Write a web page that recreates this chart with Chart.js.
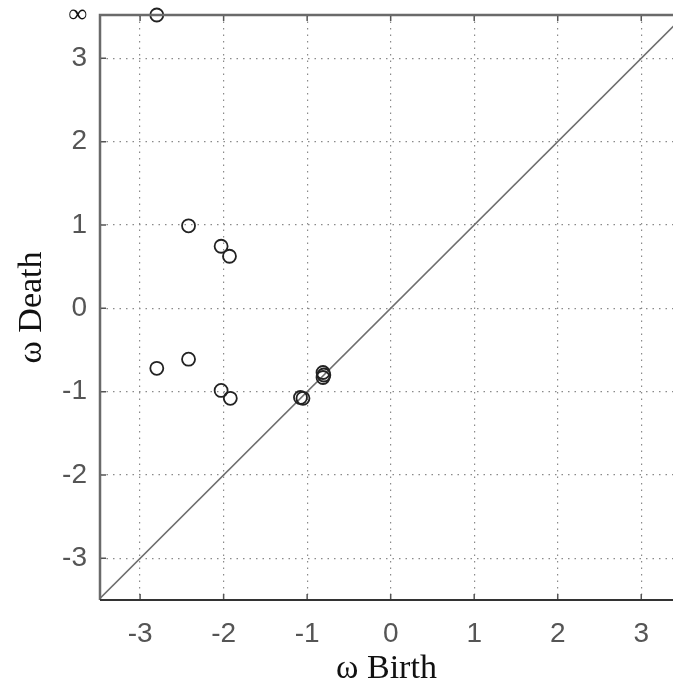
<!DOCTYPE html>
<html>
<head>
<meta charset="utf-8">
<script src="https://cdn.jsdelivr.net/npm/chart.js@4/dist/chart.umd.min.js"></script>
<style>
  html, body { margin: 0; padding: 0; background: #fff; }
  #wrap { width: 673px; height: 690px; position: relative; }
</style>
</head>
<body>
<div id="wrap"><canvas id="c" width="673" height="690"></canvas></div>
<script>
// Persistence diagram values
const births = [-2.80, -2.42, -2.03, -1.93, -2.80, -2.42, -2.03, -1.92, -1.08, -1.05, -0.81, -0.80, -0.81];
const deaths = [Infinity, 0.99, 0.745, 0.625, -0.72, -0.61, -0.985, -1.08, -1.07, -1.08, -0.77, -0.80, -0.83];
const xTicks = [-3, -2, -1, 0, 1, 2, 3];
const yTicks = [-3, -2, -1, 0, 1, 2, 3];
const xRange = [-3.48, 3.38];
const yRange = [-3.5, 3.52];
const infLabel = '∞';
const xTitle = 'ω Birth';
const yTitle = 'ω Death';

const points = births.map((b, i) => ({ x: b, y: isFinite(deaths[i]) ? deaths[i] : yRange[1] }));
const diag = [{ x: yRange[0], y: yRange[0] }, { x: yRange[1], y: yRange[1] }];

const tickFont = { family: "'Liberation Sans Narrow', 'Liberation Sans', Arial, sans-serif", size: 28 };
const titleFont = { family: "'Liberation Serif', 'Times New Roman', serif", size: 34 };

const frame = {
  id: 'frame',
  afterDatasetsDraw(chart) {
    const { ctx, chartArea: a, scales } = chart;
    ctx.save();
    ctx.strokeStyle = '#555';
    ctx.lineWidth = 1.5;
    ctx.beginPath();
    xTicks.forEach(v => {
      const px = scales.x.getPixelForValue(v);
      ctx.moveTo(px, a.bottom); ctx.lineTo(px, a.bottom - 6);
      ctx.moveTo(px, a.top); ctx.lineTo(px, a.top + 6);
    });
    yTicks.forEach(v => {
      const py = scales.y.getPixelForValue(v);
      ctx.moveTo(a.left, py); ctx.lineTo(a.left + 6, py);
    });
    ctx.stroke();
    ctx.strokeStyle = '#6a6a6a';
    ctx.lineWidth = 2.5;
    ctx.beginPath();
    ctx.moveTo(a.right, a.top); ctx.lineTo(a.left, a.top); ctx.lineTo(a.left, a.bottom);
    ctx.stroke();
    ctx.strokeStyle = '#333';
    ctx.lineWidth = 2;
    ctx.beginPath();
    ctx.moveTo(a.left, a.bottom); ctx.lineTo(a.right, a.bottom);
    ctx.stroke();
    ctx.restore();
  }
};

new Chart(document.getElementById('c'), {
  type: 'scatter',
  data: {
    datasets: [
      {
        type: 'line',
        data: diag,
        borderColor: '#6e6e6e',
        borderWidth: 1.6,
        pointRadius: 0,
        fill: false,
        order: 2
      },
      {
        data: points,
        pointStyle: 'circle',
        pointRadius: 6.5,
        pointHoverRadius: 6.5,
        backgroundColor: 'rgba(0,0,0,0)',
        borderColor: '#222',
        borderWidth: 1.8,
        clip: false,
        order: 1
      }
    ]
  },
  options: {
    responsive: false,
    animation: false,
    layout: { autoPadding: false, padding: { top: 15, right: 0, left: 0, bottom: 0 } },
    plugins: { legend: { display: false }, tooltip: { enabled: false } },
    scales: {
      x: {
        type: 'linear',
        min: xRange[0], max: xRange[1],
        afterBuildTicks: s => { s.ticks = xTicks.map(v => ({ value: v })); },
        afterFit: s => { s.height = 90; s.paddingLeft = 0; s.paddingRight = 0; },
        border: { display: false, dash: [1.5, 5] },
        grid: { color: '#8a8a8a', lineWidth: 1.2, drawTicks: false },
        ticks: { color: '#555', font: tickFont, padding: 17, maxRotation: 0 },
        title: { display: true, text: xTitle, color: '#111', font: titleFont, padding: { top: 0, bottom: 1 } }
      },
      y: {
        type: 'linear',
        min: yRange[0], max: yRange[1],
        afterBuildTicks: s => { s.ticks = yTicks.map(v => ({ value: v })).concat([{ value: yRange[1] }]); },
        afterFit: s => { s.width = 100; s.paddingTop = 0; s.paddingBottom = 0; },
        border: { display: false, dash: [1.5, 5] },
        grid: {
          color: c => (c.tick && c.tick.value === yRange[1]) ? 'rgba(0,0,0,0)' : '#8a8a8a',
          lineWidth: 1.2, drawTicks: false
        },
        ticks: {
          color: c => (c.tick && c.tick.value === yRange[1]) ? '#111' : '#555',
          font: c => (c.tick && c.tick.value === yRange[1]) ? { family: "'Liberation Serif', serif", size: 26, weight: 'bold' } : tickFont,
          padding: 13,
          callback: v => v === yRange[1] ? infLabel : v
        },
        title: { display: true, text: yTitle, color: '#111', font: titleFont, padding: { top: 12, bottom: 0 } }
      }
    }
  },
  plugins: [frame]
});
</script>
</body>
</html>
